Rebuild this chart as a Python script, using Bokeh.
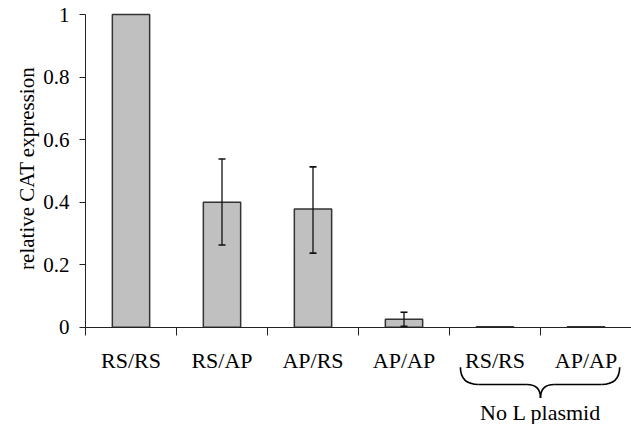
import math
from bokeh.plotting import figure
from bokeh.models import Range1d, FixedTicker, ColumnDataSource, Whisker
from bokeh.core.properties import value
from bokeh.embed import file_html
from bokeh.resources import INLINE

categories = ["RS/RS", "RS/AP", "AP/RS", "AP/AP", "RS/RS", "AP/AP"]
values = [1.0, 0.40, 0.378, 0.026, 0.002, 0.002]
err_upper = [None, 0.538, 0.513, 0.048, None, None]
err_lower = [None, 0.263, 0.237, 0.003, None, None]
y_ticks = [0, 0.2, 0.4, 0.6, 0.8, 1.0]
y_tick_labels = ["0", "0.2", "0.4", "0.6", "0.8", "1"]
y_title = "relative CAT expression"
group_label = "No L plasmid"
group_members = [4, 5]  # indices of categories under the brace

FONT = "Liberation Serif"
x_pos = [i + 0.5 for i in range(len(categories))]

p = figure(width=631, height=424, frame_width=631, frame_height=424,
           output_backend="svg", toolbar_location=None,
           x_range=Range1d(-0.934, len(categories)),
           y_range=Range1d(-0.311, 1.045),
           min_border_left=0, min_border_right=0,
           min_border_top=0, min_border_bottom=0)
p.outline_line_color = None
p.xgrid.visible = False
p.ygrid.visible = False
p.background_fill_color = "white"

src = ColumnDataSource(dict(x=x_pos, top=values))
p.vbar(x="x", top="top", width=0.41, bottom=0, source=src,
       fill_color="#c0c0c0", line_color="#333333", line_width=1.5)

ex = [x_pos[i] for i in range(len(categories)) if err_upper[i] is not None]
eu = [u for u in err_upper if u is not None]
el = [l for l in err_lower if l is not None]
esrc = ColumnDataSource(dict(x=ex, upper=eu, lower=el))
w = Whisker(base="x", upper="upper", lower="lower", source=esrc,
            line_color="#111111", line_width=1.3, level="annotation")
w.upper_head.size = 7
w.lower_head.size = 7
w.upper_head.line_color = "#111111"
w.lower_head.line_color = "#111111"
w.upper_head.line_width = 1.6
w.lower_head.line_width = 1.6
p.add_layout(w)

# y axis at x=0
ya = p.yaxis[0]
ya.fixed_location = 0
ya.ticker = FixedTicker(ticks=y_ticks)
ya.major_label_overrides = {t: l for t, l in zip(y_ticks, y_tick_labels)}
ya.bounds = (0, 1)
ya.minor_tick_line_color = None
ya.major_tick_out = 6
ya.major_tick_in = 0
ya.major_label_standoff = 10
ya.major_label_text_font = FONT
ya.major_label_text_font_size = "21px"
ya.major_label_text_color = "black"
ya.axis_line_color = "#222222"
ya.major_tick_line_color = "#222222"

# y title centred on the 0..1 span of the axis
p.text(x=[-0.648], y=[0.508], text=[y_title], angle=math.pi / 2,
       text_font=value(FONT), text_font_size="21px", text_color="black",
       text_align="center", text_baseline="middle")

# x axis at y=0
xa = p.xaxis[0]
xa.fixed_location = 0
xa.bounds = (0, len(categories))
xa.ticker = FixedTicker(ticks=x_pos, minor_ticks=list(range(len(categories) + 1)))
xa.major_label_overrides = {x: c for x, c in zip(x_pos, categories)}
xa.major_tick_line_color = None
xa.major_tick_out = 0
xa.major_tick_in = 0
xa.minor_tick_out = 8
xa.minor_tick_in = 0
xa.minor_tick_line_color = "#222222"
xa.axis_line_color = "#222222"
xa.major_label_standoff = 13
xa.major_label_text_font = FONT
xa.major_label_text_font_size = "22px"
xa.major_label_text_color = "black"

# brace under the "No L plasmid" group
gl = x_pos[group_members[0]] - 0.38
gr = x_pos[group_members[-1]] + 0.37
gm = (x_pos[group_members[0]] + x_pos[group_members[-1]]) / 2
y_top, y_mid, y_tip = -0.128, -0.183, -0.226
r = 0.2
bz = dict(
    x0=[gl, gm - 0.15, gr, gm + 0.15],
    y0=[y_top, y_mid, y_top, y_mid],
    x1=[gl + r, gm, gr - r, gm],
    y1=[y_mid, y_tip, y_mid, y_tip],
    cx0=[gl, gm, gr, gm],
    cy0=[y_mid, y_mid, y_mid, y_mid],
)
p.quadratic(x0="x0", y0="y0", x1="x1", y1="y1", cx="cx0", cy="cy0",
            source=ColumnDataSource(bz), line_color="black", line_width=1.6)
p.segment(x0=[gl + r, gm + 0.15], y0=[y_mid, y_mid],
          x1=[gm - 0.15, gr - r], y1=[y_mid, y_mid],
          line_color="black", line_width=1.6)
p.text(x=[gm], y=[-0.274], text=[group_label], text_font=value(FONT),
       text_font_size="22px", text_align="center", text_baseline="middle",
       text_color="black")

open("out.html", "w").write(file_html(p, INLINE))
